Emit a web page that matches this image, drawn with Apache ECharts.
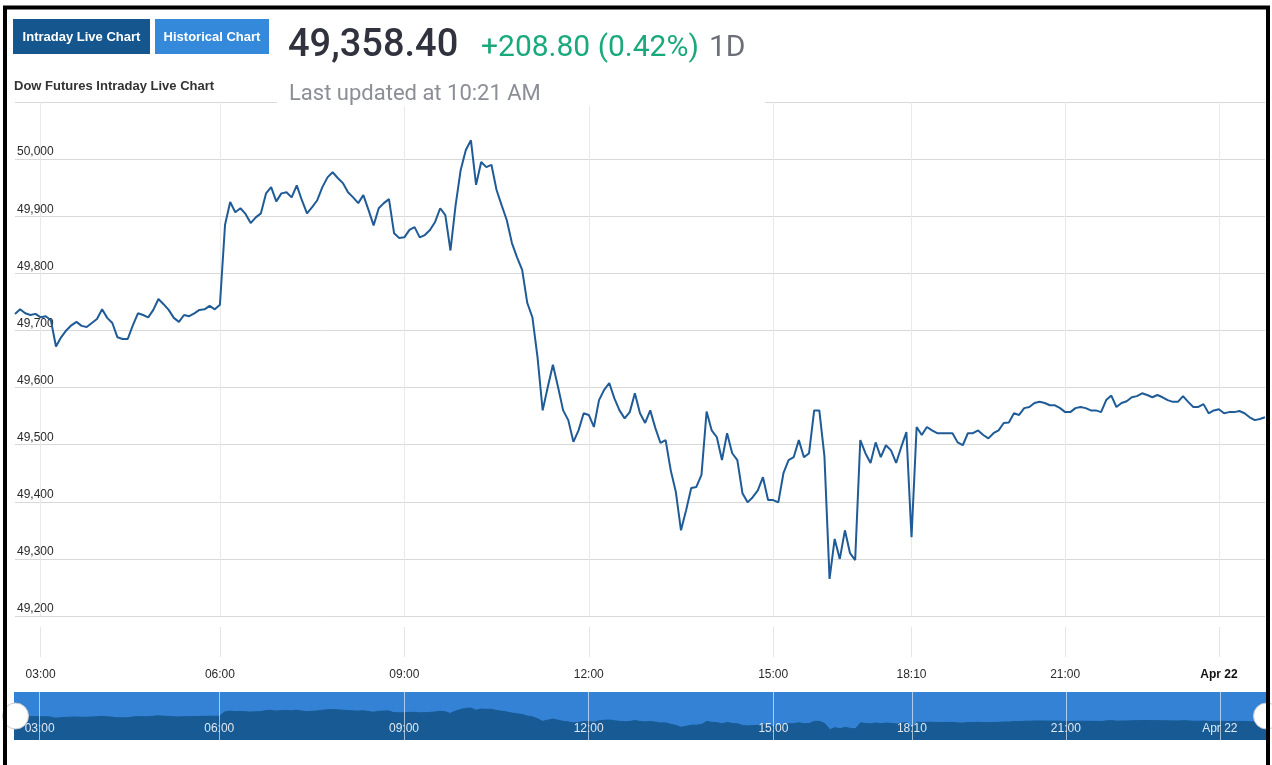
<!DOCTYPE html>
<html>
<head>
<meta charset="utf-8">
<script src="https://cdn.jsdelivr.net/npm/echarts@6/dist/echarts.min.js"></script>
<style>
html,body{margin:0;padding:0;background:#fff;}
#chart{width:1272px;height:765px;}
</style>
</head>
<body>
<div id="chart"></div>
<script>
// ---- data ----
const times = [
'02:35','02:40','02:45','02:50','02:55','03:00',
'03:05','03:10','03:15','03:20','03:25','03:30','03:35','03:40','03:45','03:50','03:55',
'04:00','04:05','04:10','04:15','04:25','04:30','04:35','04:40','04:45','04:50','04:55',
'05:00','05:05','05:10','05:15','05:20','05:25','05:30','05:35','05:40','05:45','05:50','05:55',
'06:00','06:05','06:10','06:15','06:20','06:25','06:30','06:35','06:40','06:45','06:50','06:55',
'07:00','07:05','07:10','07:15','07:20','07:25','07:30','07:35','07:40','07:45','07:50','07:55',
'08:00','08:05','08:10','08:15','08:20','08:25','08:30','08:35','08:40','08:45','08:50','08:55',
'09:00','09:05','09:10','09:15','09:20','09:25','09:30','09:35','09:40','09:45','09:50','09:55',
'10:00','10:05','10:10','10:15','10:20','10:25','10:30','10:35','10:40','10:45','10:50','10:55',
'11:00','11:05','11:10','11:15','11:20','11:25','11:30','11:35','11:40','11:45','11:50','11:55',
'12:00','12:05','12:10','12:15','12:20','12:25','12:30','12:35','12:40','12:45','12:50','12:55',
'13:00','13:05','13:10','13:15','13:20','13:25','13:30','13:35','13:40','13:45','13:50','13:55',
'14:00','14:05','14:10','14:15','14:20','14:25','14:30','14:35','14:40','14:45','14:50','14:55',
'15:00','15:05','15:10','15:15','15:20','15:25','15:30','15:35','15:40','15:45','15:50','15:55',
'16:00','16:05','16:10','16:15','16:20','16:25','16:30','16:35','16:40','16:45','16:50','16:55',
'17:00','18:00','18:05','18:10',
'18:16','18:21','18:27','18:33','18:38','18:44','18:50','18:55','19:01','19:07',
'19:12','19:18','19:24','19:29','19:35','19:41','19:46','19:52','19:58','20:03',
'20:09','20:15','20:20','20:26','20:32','20:37','20:43','20:49','20:54','21:00',
'21:06','21:12','21:18','21:24','21:30','21:36','21:42','21:48','21:54','22:00',
'22:06','22:12','22:18','22:24','22:30','22:36','22:42','22:48','22:54','23:00',
'23:06','23:12','23:18','23:24','23:30','23:36','23:42','23:48','23:54','Apr 22',
'00:06','00:12','00:18','00:24','00:30','00:36','00:42','00:48','00:54'
];
const prices = [
49729,49737,49730,49727,49729,49723,49725,49718,49672,49688,
49700,49709,49715,49708,49706,49713,49720,49737,49722,49713,
49688,49685,49685,49709,49730,49727,49723,49736,49755,49746,
49736,49722,49715,49727,49725,49730,49736,49737,49743,49737,
49745,49885,49925,49907,49914,49904,49888,49898,49905,49940,
49951,49926,49940,49942,49933,49954,49928,49905,49916,49928,
49951,49968,49977,49967,49958,49942,49933,49923,49937,49911,
49884,49914,49923,49930,49870,49862,49863,49876,49881,49863,
49867,49876,49890,49914,49902,49840,49919,49981,50016,50033,
49955,49995,49986,49990,49946,49919,49893,49853,49828,49806,
49748,49723,49653,49560,49601,49640,49601,49560,49543,49505,
49525,49555,49552,49531,49578,49596,49608,49581,49560,49546,
49557,49590,49555,49538,49560,49529,49503,49508,49455,49417,
49350,49385,49424,49426,49447,49558,49525,49513,49473,49520,
49485,49473,49415,49399,49408,49420,49443,49403,49403,49399,
49450,49473,49478,49508,49478,49485,49560,49560,49480,49265,
49335,49300,49350,49310,49298,49508,49485,49468,49504,49478,
49499,49490,49468,49496,49522,49338,49531,49517,49531,49525,
49520,49520,49520,49520,49504,49499,49520,49520,49525,49517,
49511,49520,49525,49538,49539,49555,49552,49564,49566,49573,
49575,49573,49569,49569,49564,49557,49557,49564,49566,49564,
49560,49560,49557,49578,49586,49566,49573,49576,49583,49585,
49590,49587,49583,49587,49583,49578,49575,49575,49585,49575,
49566,49566,49571,49555,49560,49562,49555,49557,49557,49559,
49555,49548,49543,49545,49548
];
const tickLabels = ['03:00','06:00','09:00','12:00','15:00','18:10','21:00','Apr 22'];
const yMin = 49200, yMax = 50100, yStep = 100;
const navMin = 48900, navMax = 50600;

const headerPrice = '49,358.40';
const headerChange = '+208.80 (0.42%)';
const headerPeriod = '1D';
const headerUpdated = 'Last updated at 10:21 AM';
const subTitle = 'Dow Futures Intraday Live Chart';
const buttons = ['Intraday Live Chart', 'Historical Chart'];

// ---- chart ----
const isTick = (i, v) => tickLabels.indexOf(v) >= 0;
const chart = echarts.init(document.getElementById('chart'));
const SANS = '"Liberation Sans",Arial,sans-serif';

chart.setOption({
  animation: false,
  grid: [
    {left: 15, right: 7, top: 102, height: 514, containLabel: false},
    {left: 14, right: 6, top: 692, height: 48, show: true, backgroundColor: '#3382d5', borderWidth: 0}
  ],
  xAxis: [
    {
      type: 'category', data: times, boundaryGap: false, gridIndex: 0, offset: 11,
      axisLine: {show: false},
      axisTick: {show: true, length: 30, interval: isTick, lineStyle: {color: '#e6e6e6'}},
      axisLabel: {
        interval: isTick, margin: 42, color: '#2a2a2a', fontSize: 12, fontFamily: SANS,
        formatter: v => v === 'Apr 22' ? '{b|Apr 22}' : v,
        rich: {b: {fontWeight: 'bold', fontSize: 12, color: '#111', fontFamily: SANS}}
      },
      splitLine: {show: true, interval: isTick, lineStyle: {color: '#e9e9e9', width: 1}}
    },
    {
      type: 'category', data: times, boundaryGap: false, gridIndex: 1, z: 5,
      axisLine: {show: false}, axisTick: {show: false},
      axisLabel: {inside: true, interval: isTick, margin: 5, color: '#dfe8f3', fontSize: 12, fontFamily: SANS},
      splitLine: {show: true, interval: isTick, lineStyle: {color: 'rgba(255,255,255,0.6)', width: 1}}
    }
  ],
  yAxis: [
    {
      type: 'value', gridIndex: 0, min: yMin, max: yMax, interval: yStep,
      axisLine: {show: false}, axisTick: {show: false},
      axisLabel: {
        inside: true, margin: 2, verticalAlign: 'bottom', align: 'left', padding: [0, 0, 1, 0],
        color: '#2a2a2a', fontSize: 12, fontFamily: SANS,
        formatter: v => v >= yMax ? '' : v.toLocaleString('en-US')
      },
      splitLine: {lineStyle: {color: '#d9d9d9', width: 1}}
    },
    {
      type: 'value', gridIndex: 1, min: navMin, max: navMax,
      axisLine: {show: false}, axisTick: {show: false}, axisLabel: {show: false}, splitLine: {show: false}
    }
  ],
  dataZoom: [{
    type: 'slider', xAxisIndex: 0, filterMode: 'none', start: 0, end: 100,
    left: 13, right: 6, top: 692, height: 48,
    backgroundColor: 'rgba(0,0,0,0)', borderColor: 'rgba(0,0,0,0)', fillerColor: 'rgba(0,0,0,0)',
    showDataShadow: false, showDetail: false, brushSelect: false,
    handleIcon: 'circle', handleSize: 26,
    handleStyle: {color: '#ffffff', borderColor: '#c9c9c9', borderWidth: 1},
    moveHandleSize: 0, z: 10
  }],
  series: [
    {
      type: 'line', xAxisIndex: 0, yAxisIndex: 0, data: prices, showSymbol: false,
      lineStyle: {color: '#1f5b97', width: 2}, itemStyle: {color: '#1f5b97'}
    },
    {
      type: 'line', xAxisIndex: 1, yAxisIndex: 1, data: prices, showSymbol: false,
      lineStyle: {color: '#175a94', width: 1}, itemStyle: {color: '#175a94'},
      areaStyle: {color: '#175a94', opacity: 1}, z: 2
    }
  ],
  graphic: [
    {type: 'rect', z: 100, shape: {x: 277, y: 11, width: 488, height: 95}, style: {fill: '#ffffff'}},
    {type: 'rect', z: 100, shape: {x: 13, y: 19, width: 137, height: 35}, style: {fill: '#16568f'}},
    {type: 'text', z: 101, style: {x: 81.5, y: 37, text: buttons[0], fill: '#fff', font: 'bold 13px ' + SANS, textAlign: 'center', textVerticalAlign: 'middle'}},
    {type: 'rect', z: 100, shape: {x: 155, y: 19, width: 114, height: 35}, style: {fill: '#3589da'}},
    {type: 'text', z: 101, style: {x: 212, y: 37, text: buttons[1], fill: '#fff', font: 'bold 13px ' + SANS, textAlign: 'center', textVerticalAlign: 'middle'}},
    {type: 'text', z: 101, style: {x: 14, y: 86, text: subTitle, fill: '#333', font: 'bold 13px ' + SANS, textAlign: 'left', textVerticalAlign: 'middle'}},
    {type: 'text', z: 101, style: {x: 288, y: 46, text: headerPrice, fill: '#30333e', font: '500 38px Roboto', textAlign: 'left', textVerticalAlign: 'middle'}},
    {type: 'text', z: 101, style: {x: 481, y: 48, text: headerChange, fill: '#1aa97b', font: '30px Roboto', textAlign: 'left', textVerticalAlign: 'middle'}},
    {type: 'text', z: 101, style: {x: 709, y: 48, text: headerPeriod, fill: '#6c6f78', font: '30px Roboto', textAlign: 'left', textVerticalAlign: 'middle'}},
    {type: 'text', z: 101, style: {x: 289, y: 94, text: headerUpdated, fill: '#8b8e96', font: '22px Roboto', textAlign: 'left', textVerticalAlign: 'middle'}},
    {type: 'rect', z: 102, shape: {x: 5, y: 7.5, width: 1263, height: 800}, style: {fill: 'none', stroke: '#000', lineWidth: 4}}
  ]
});
</script>
</body>
</html>
